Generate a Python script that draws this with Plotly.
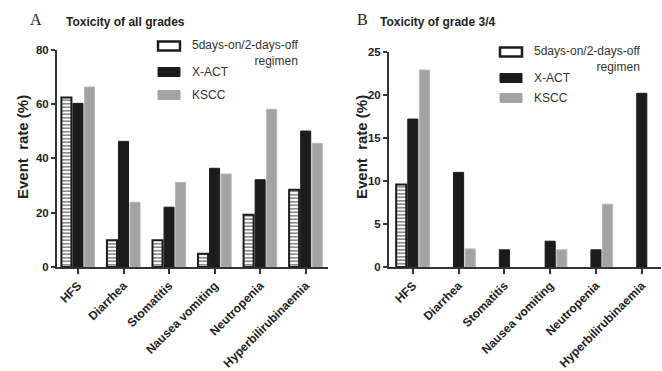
import plotly.graph_objects as go

categories = ["HFS", "Diarrhea", "Stomatitis", "Nausea vomiting", "Neutropenia", "Hyperbilirubinaemia"]
series_names = ["5days-on/2-days-off regimen", "X-ACT", "KSCC"]

all_5on2off = [62.3, 9.8, 9.8, 4.9, 19.2, 28.4]
all_xact = [60.2, 46.2, 22.0, 36.3, 32.1, 50.0]
all_kscc = [66.2, 23.8, 31.1, 34.2, 58.0, 45.5]

g34_5on2off = [9.6, 0, 0, 0, 0, 0]
g34_xact = [17.2, 11.0, 2.0, 3.0, 2.0, 20.2]
g34_kscc = [22.9, 2.1, 0, 2.0, 7.3, 0]

W, H = 662, 371
def px(x): return x / W
def py(y): return 1 - y / H

FONT = "Liberation Sans, Arial, sans-serif"
BLACK = "#1c1c1c"
GRAY = "#a3a3a3"

fig = go.Figure()

def lw(vals, w):
    return [w if v > 0 else 0 for v in vals]

def add_panel(vals, xa, ya):
    v1, v2, v3 = vals
    fig.add_trace(go.Bar(x=categories, y=v1, xaxis=xa, yaxis=ya, name=series_names[0],
                         marker=dict(color="white", line=dict(color=BLACK, width=lw(v1, 2)),
                                     pattern=dict(shape="-", fgcolor=BLACK, bgcolor="white",
                                                  size=3.5, solidity=0.5)),
                         showlegend=False))
    fig.add_trace(go.Bar(x=categories, y=v2, xaxis=xa, yaxis=ya, name=series_names[1],
                         marker=dict(color=BLACK, line=dict(color=BLACK, width=lw(v2, 1))),
                         showlegend=False))
    fig.add_trace(go.Bar(x=categories, y=v3, xaxis=xa, yaxis=ya, name=series_names[2],
                         marker=dict(color=GRAY, line=dict(color="#b5b5b5", width=lw(v3, 1))),
                         showlegend=False))

add_panel((all_5on2off, all_xact, all_kscc), "x", "y")
add_panel((g34_5on2off, g34_xact, g34_kscc), "x2", "y2")

xtickfont = dict(family=FONT, size=12, color="#222", weight="bold")
ytickfont = dict(family=FONT, size=11.5, color="#222", weight="bold")
common_x = dict(type="category", showline=True, linecolor="#333", linewidth=2,
                ticks="outside", ticklen=5, tickwidth=1.5, tickcolor="#333",
                tickangle=-45, tickfont=xtickfont, showgrid=False, zeroline=False,
                automargin=False)
common_y = dict(showline=True, linecolor="#333", linewidth=2, ticks="outside",
                ticklen=4, tickwidth=1.5, tickcolor="#333", tickfont=ytickfont,
                showgrid=False, zeroline=False, automargin=False)

fig.update_layout(
    width=W, height=H,
    margin=dict(l=0, r=0, t=0, b=0, autoexpand=False),
    paper_bgcolor="white", plot_bgcolor="white",
    barmode="group", bargap=0.24, bargroupgap=0.13,
    xaxis=dict(domain=[px(57), px(328)], anchor="y", range=[-0.46, 5.49], **common_x),
    yaxis=dict(domain=[py(267), py(49.5)], anchor="x", range=[0, 80], tickvals=[0, 20, 40, 60, 80], **common_y),
    xaxis2=dict(domain=[px(389), px(661)], anchor="y2", range=[-0.52, 5.42], **common_x),
    yaxis2=dict(domain=[py(267), py(52)], anchor="x2", range=[0, 25], tickvals=[0, 5, 10, 15, 20, 25], **common_y),
    showlegend=False,
)

annotations = []
shapes = []

def panel_text(letter, lx, title, tx, ylab_x, leg_x0, leg_y):
    annotations.append(dict(text=letter, x=px(lx), y=py(19), xref="paper", yref="paper",
                            showarrow=False, xanchor="center", yanchor="middle",
                            font=dict(family="Liberation Serif, Times New Roman, serif", size=16, color="#222")))
    annotations.append(dict(text=title, x=px(tx), y=py(22), xref="paper", yref="paper",
                            showarrow=False, xanchor="left", yanchor="middle",
                            font=dict(family=FONT, size=12, color="#222", weight="bold")))
    annotations.append(dict(text="Event  rate (%)", x=px(ylab_x), y=py(147), xref="paper", yref="paper",
                            showarrow=False, xanchor="center", yanchor="middle", textangle=-90,
                            font=dict(family=FONT, size=15, color="#222", weight="bold")))
    r0, r1, r2 = leg_y
    sw, sh = 22, 9
    shapes.append(dict(type="rect", xref="paper", yref="paper",
                       x0=px(leg_x0), x1=px(leg_x0 + sw), y0=py(r0 + sh / 2), y1=py(r0 - sh / 2),
                       fillcolor="white", line=dict(color=BLACK, width=2.5)))
    shapes.append(dict(type="rect", xref="paper", yref="paper",
                       x0=px(leg_x0), x1=px(leg_x0 + sw), y0=py(r1 + sh / 2), y1=py(r1 - sh / 2),
                       fillcolor=BLACK, line=dict(color=BLACK, width=1)))
    shapes.append(dict(type="rect", xref="paper", yref="paper",
                       x0=px(leg_x0), x1=px(leg_x0 + sw), y0=py(r2 + sh / 2), y1=py(r2 - sh / 2),
                       fillcolor=GRAY, line=dict(color=GRAY, width=1)))
    lf = dict(family=FONT, size=12, color="#333")
    annotations.append(dict(text="5days-on/2-days-off<br>regimen", x=px(leg_x0 + 32), y=py(r0 - 10),
                            xref="paper", yref="paper", showarrow=False, xanchor="left", yanchor="top",
                            align="right", font=lf))
    annotations.append(dict(text="X-ACT", x=px(leg_x0 + 32), y=py(r1), xref="paper", yref="paper",
                            showarrow=False, xanchor="left", yanchor="middle", font=lf))
    annotations.append(dict(text="KSCC", x=px(leg_x0 + 32), y=py(r2), xref="paper", yref="paper",
                            showarrow=False, xanchor="left", yanchor="middle", font=lf))

panel_text("A", 36, "Toxicity of all grades", 64, 22, 158, (46, 72, 95))
panel_text("B", 362, "Toxicity of grade 3/4", 378, 361, 500, (52, 78, 98))

fig.update_layout(annotations=annotations, shapes=shapes)
fig.write_html("out.html", config={"displayModeBar": False},
               post_script="document.body.style.margin='0';document.body.style.overflow='hidden';")
